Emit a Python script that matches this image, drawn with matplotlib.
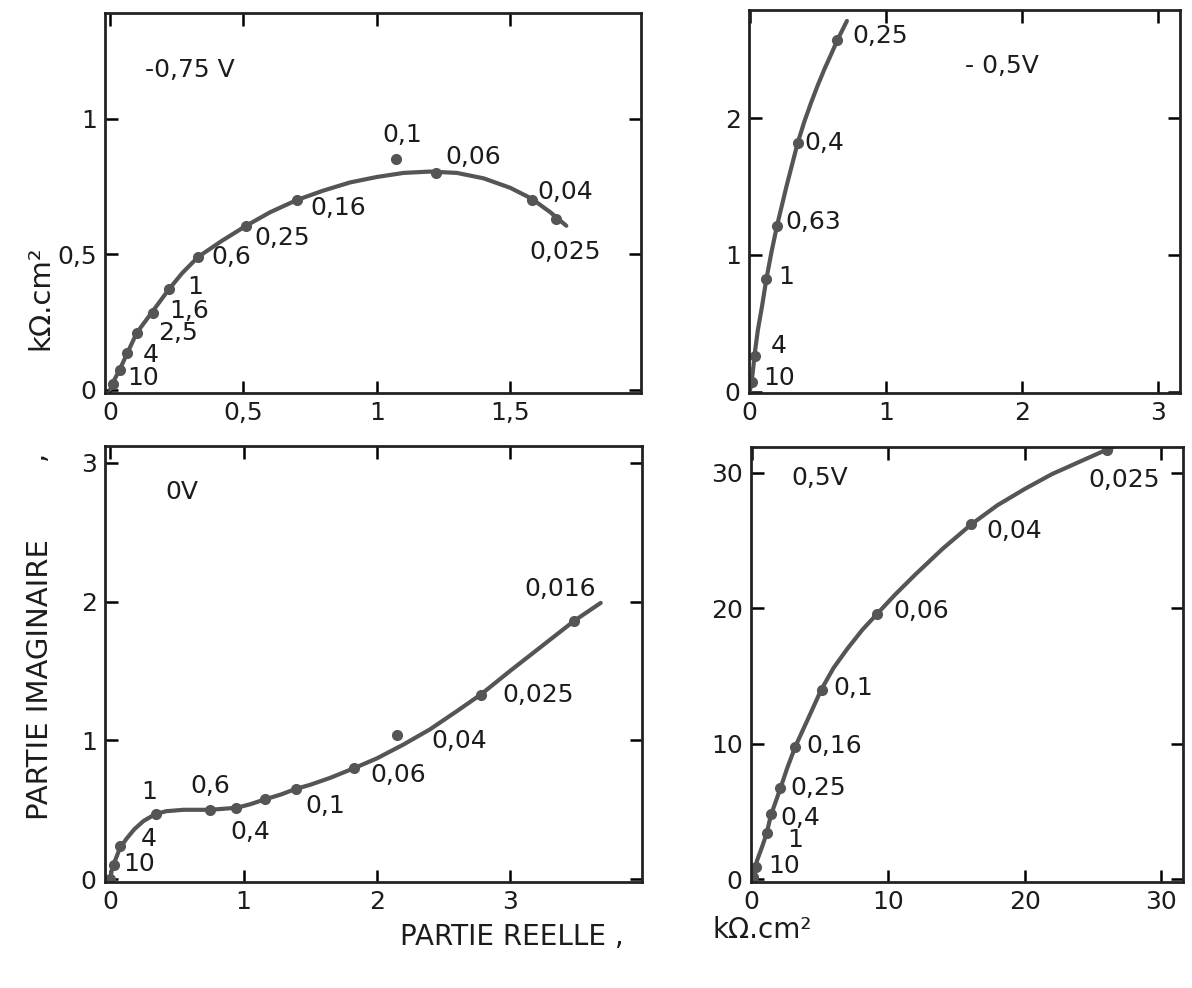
import matplotlib
matplotlib.use('Agg')
import matplotlib.pyplot as plt

plt.rcParams['font.family'] = ['DejaVu Sans']

# --- -0,75 V ---
tl_pts_x = [0.01, 0.036, 0.065, 0.10, 0.16, 0.22, 0.33, 0.51, 0.70, 1.07, 1.22, 1.58, 1.67]
tl_pts_y = [0.02, 0.074, 0.136, 0.21, 0.285, 0.37, 0.49, 0.605, 0.70, 0.852, 0.80, 0.70, 0.63]
tl_curve_x = [0.0, 0.015, 0.036, 0.065, 0.10, 0.13, 0.16, 0.22, 0.27, 0.33, 0.42, 0.51, 0.60,
              0.70, 0.80, 0.90, 1.00, 1.10, 1.20, 1.30, 1.40, 1.50, 1.58, 1.65, 1.71]
tl_curve_y = [0.0, 0.035, 0.074, 0.136, 0.21, 0.25, 0.29, 0.37, 0.43, 0.49, 0.55, 0.605, 0.655,
              0.70, 0.735, 0.765, 0.785, 0.80, 0.805, 0.80, 0.78, 0.745, 0.705, 0.655, 0.605]
tl_labels = ['10', '4', '2,5', '1,6', '1', '0,6', '0,25', '0,16', '0,1', '0,06', '0,04', '0,025']
tl_label_x = [0.064, 0.122, 0.18, 0.22, 0.29, 0.38, 0.54, 0.75, 1.02, 1.255, 1.60, 1.57]
tl_label_y = [0.043, 0.13, 0.21, 0.29, 0.38, 0.49, 0.56, 0.67, 0.94, 0.86, 0.73, 0.51]

# --- -0,5 V ---
tr_pts_x = [0.02, 0.04, 0.122, 0.20, 0.353, 0.644]
tr_pts_y = [0.07, 0.26, 0.82, 1.21, 1.82, 2.57]
tr_curve_x = [0.0, 0.01, 0.02, 0.04, 0.06, 0.09, 0.122, 0.16, 0.20, 0.27, 0.353, 0.40, 0.45,
              0.50, 0.55, 0.60, 0.644, 0.714]
tr_curve_y = [0.0, 0.05, 0.12, 0.30, 0.45, 0.62, 0.82, 1.02, 1.21, 1.50, 1.82, 1.97, 2.11,
              2.24, 2.36, 2.47, 2.57, 2.71]
tr_labels = ['10', '4', '1', '0,63', '0,4', '0,25']
tr_label_x = [0.10, 0.154, 0.21, 0.265, 0.405, 0.754]
tr_label_y = [0.10, 0.33, 0.84, 1.24, 1.82, 2.60]

# --- 0 V ---
bl_pts_x = [0.0, 0.03, 0.07, 0.34, 0.745, 0.945, 1.16, 1.39, 1.83, 2.15, 2.78, 3.48]
bl_pts_y = [0.0, 0.10, 0.24, 0.47, 0.50, 0.515, 0.575, 0.65, 0.80, 1.04, 1.33, 1.86]
bl_curve_x = [0.0, 0.01, 0.03, 0.07, 0.12, 0.18, 0.25, 0.34, 0.42, 0.55, 0.75, 0.95, 1.05,
              1.16, 1.28, 1.39, 1.50, 1.65, 1.83, 2.00, 2.20, 2.40, 2.60, 2.78, 3.00, 3.20,
              3.48, 3.68]
bl_curve_y = [0.0, 0.06, 0.12, 0.22, 0.29, 0.36, 0.42, 0.47, 0.49, 0.50, 0.50, 0.515, 0.54,
              0.575, 0.61, 0.65, 0.68, 0.73, 0.80, 0.87, 0.97, 1.08, 1.21, 1.33, 1.50, 1.65,
              1.86, 1.99]
bl_labels = ['10', '4', '1', '0,6', '0,4', '0,1', '0,06', '0,04', '0,025', '0,016']
bl_label_x = [0.10, 0.23, 0.23, 0.60, 0.90, 1.46, 1.95, 2.41, 2.94, 3.11]
bl_label_y = [0.11, 0.29, 0.63, 0.67, 0.34, 0.53, 0.75, 0.995, 1.33, 2.09]

# --- 0,5 V ---
br_pts_x = [0.1, 0.3, 1.1, 1.39, 2.08, 3.19, 5.14, 9.17, 16.1, 26.0]
br_pts_y = [0.2, 0.9, 3.4, 4.8, 6.7, 9.76, 14.0, 19.6, 26.2, 31.7]
br_curve_x = [0.0, 0.15, 0.4, 0.8, 1.1, 1.4, 2.1, 2.6, 3.2, 4.2, 5.1, 6.0, 7.0, 8.1, 9.2,
              10.5, 12.0, 14.0, 16.1, 18.0, 20.0, 22.0, 24.0, 26.0, 26.5]
br_curve_y = [0.0, 0.5, 1.4, 2.5, 3.4, 4.7, 6.7, 8.2, 9.8, 12.0, 14.0, 15.6, 17.0, 18.4, 19.6,
              21.0, 22.5, 24.4, 26.2, 27.6, 28.8, 29.9, 30.8, 31.7, 31.9]
br_labels = ['10', '1', '0,4', '0,25', '0,16', '0,1', '0,06', '0,04', '0,025']
br_label_x = [1.25, 2.6, 2.1, 2.8, 4.0, 6.0, 10.4, 17.2, 24.7]
br_label_y = [1.0, 2.9, 4.5, 6.7, 9.8, 14.1, 19.8, 25.7, 29.5]

line_col = '#555555'
txt_col = '#1c1c1c'
fs = 18

fig = plt.figure(figsize=(11.92, 9.88), dpi=100)


def panel(rect, cx, cy, px, py, labs, lx, ly, title, tpos, xlim, ylim, xt, xtl, yt, ytl):
    ax = fig.add_axes(rect)
    ax.plot(cx, cy, color=line_col, lw=3.0, solid_capstyle='round', solid_joinstyle='round')
    ax.plot(px, py, 'o', color=line_col, ms=7, mec=line_col)
    for s, x, y in zip(labs, lx, ly):
        ax.text(x, y, s, ha='left', va='center', fontsize=fs, color=txt_col)
    ax.text(tpos[0], tpos[1], title, ha='left', va='center', fontsize=fs, color=txt_col)
    ax.set_xlim(*xlim)
    ax.set_ylim(*ylim)
    ax.set_xticks(xt)
    ax.set_xticklabels(xtl)
    ax.set_yticks(yt)
    ax.set_yticklabels(ytl)
    ax.tick_params(direction='in', length=9, width=1.8, top=True, right=True,
                   labelsize=fs, labelcolor=txt_col, pad=6)
    for sp in ax.spines.values():
        sp.set_linewidth(2.0)
        sp.set_color('#222222')
    return ax


panel([105 / 1192, 1 - 393 / 988, 536 / 1192, 380 / 988],
      tl_curve_x, tl_curve_y, tl_pts_x, tl_pts_y, tl_labels, tl_label_x, tl_label_y,
      '-0,75 V', (0.13, 1.18), (-0.019, 1.99), (-0.012, 1.39),
      [0, 0.5, 1, 1.5], ['0', '0,5', '1', '1,5'], [0, 0.5, 1], ['0', '0,5', '1'])

panel([749 / 1192, 1 - 393 / 988, 431 / 1192, 383 / 988],
      tr_curve_x, tr_curve_y, tr_pts_x, tr_pts_y, tr_labels, tr_label_x, tr_label_y,
      '- 0,5V', (1.58, 2.38), (-0.005, 3.16), (-0.01, 2.79),
      [0, 1, 2, 3], ['0', '1', '2', '3'], [0, 1, 2], ['0', '1', '2'])

panel([105 / 1192, 1 - 882 / 988, 537 / 1192, 436 / 988],
      bl_curve_x, bl_curve_y, bl_pts_x, bl_pts_y, bl_labels, bl_label_x, bl_label_y,
      '0V', (0.415, 2.79), (-0.04, 3.99), (-0.02, 3.12),
      [0, 1, 2, 3], ['0', '1', '2', '3'], [0, 1, 2, 3], ['0', '1', '2', '3'])

panel([751 / 1192, 1 - 882 / 988, 432 / 1192, 435 / 988],
      br_curve_x, br_curve_y, br_pts_x, br_pts_y, br_labels, br_label_x, br_label_y,
      '0,5V', (2.9, 29.6), (-0.05, 31.6), (-0.2, 31.9),
      [0, 10, 20, 30], ['0', '10', '20', '30'], [0, 10, 20, 30], ['0', '10', '20', '30'])

fig.text(40 / 1192, 1 - 680 / 988, 'PARTIE IMAGINAIRE', rotation=90, ha='center', va='center',
         fontsize=21, color=txt_col)
fig.text(36 / 1192, 1 - 455 / 988, ',', rotation=90, ha='center', va='center',
         fontsize=21, color=txt_col)
fig.text(40 / 1192, 1 - 298 / 988, 'kΩ.cm²', rotation=90, ha='center', va='center',
         fontsize=21, color=txt_col)
fig.text(512 / 1192, 1 - 937 / 988, 'PARTIE REELLE ,', ha='center', va='center',
         fontsize=20, color=txt_col)
fig.text(762 / 1192, 1 - 930 / 988, 'kΩ.cm²', ha='center', va='center',
         fontsize=20, color=txt_col)

fig.savefig('out.png', dpi=100, facecolor='white')
